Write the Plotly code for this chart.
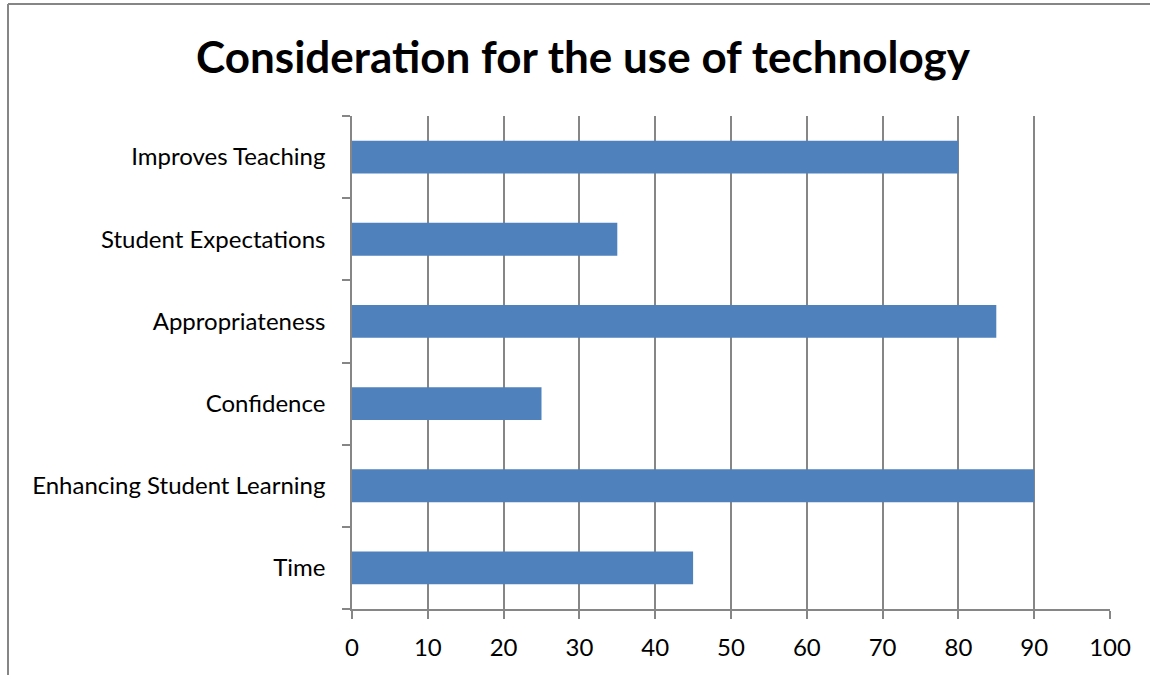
import plotly.graph_objects as go

categories = ["Time", "Enhancing Student Learning", "Confidence",
              "Appropriateness", "Student Expectations", "Improves Teaching"]
values = [45, 90, 25, 85, 35, 80]
x_ticks = [0, 10, 20, 30, 40, 50, 60, 70, 80, 90, 100]

GRAY = "#868686"
FONT = "Lato"

fig = go.Figure(go.Bar(
    x=values, y=categories, orientation="h",
    marker=dict(color="#4F81BD", line=dict(width=0)),
    hoverinfo="x+y",
))

fig.update_layout(
    width=1150, height=675,
    margin=dict(l=352, r=40, t=116, b=66),
    paper_bgcolor="white", plot_bgcolor="white",
    bargap=0.6,
    showlegend=False,
    title=dict(text="<b>Consideration for the use of technology</b>",
               x=0.507, xanchor="center", y=0.915, yanchor="middle",
               font=dict(family=FONT, size=44, color="black")),
    font=dict(family=FONT, size=24, color="black"),
    shapes=[
        dict(type="line", xref="paper", yref="paper",
             x0=-344 / 758, x1=-344 / 758, y0=605 / 493, y1=-70 / 493,
             line=dict(color=GRAY, width=2)),
        dict(type="line", xref="paper", yref="paper",
             x0=-344 / 758, x1=800 / 758, y0=605 / 493, y1=605 / 493,
             line=dict(color=GRAY, width=2)),
    ],
)

fig.update_xaxes(
    range=[0, 100], tickvals=x_ticks, ticktext=[str(t) for t in x_ticks],
    showgrid=True, gridcolor=GRAY, gridwidth=1.5,
    showline=True, linecolor=GRAY, linewidth=1.5,
    ticks="outside", ticklen=8, tickcolor=GRAY, tickwidth=1.5,
    ticklabelstandoff=8,
    tickfont=dict(family=FONT, size=24, color="black"),
    zeroline=False, fixedrange=True,
)
fig.update_yaxes(
    type="category", categoryorder="array", categoryarray=categories,
    showgrid=False,
    showline=True, linecolor=GRAY, linewidth=1.5,
    ticks="outside", ticklen=8, tickcolor=GRAY, tickwidth=1.5,
    tickson="boundaries", ticklabelstandoff=20,
    tickfont=dict(family=FONT, size=24, color="black"),
    fixedrange=True,
)

fig.write_html("out.html")
